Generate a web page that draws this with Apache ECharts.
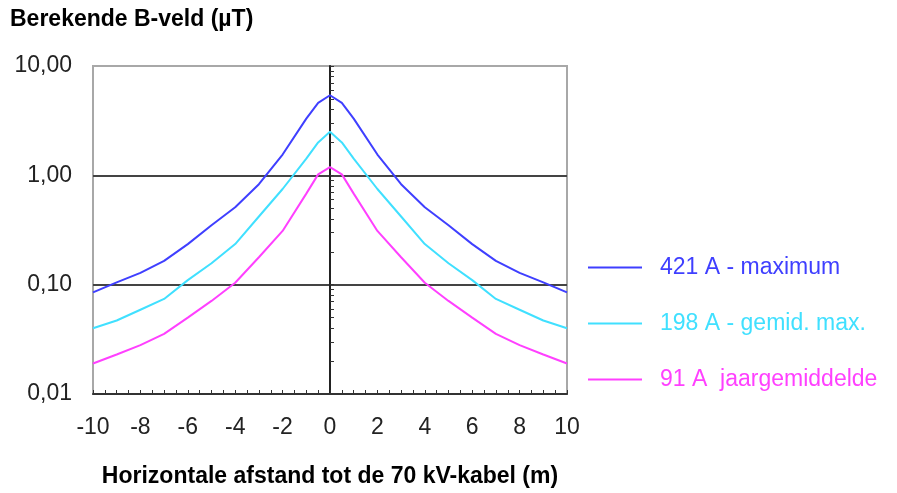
<!DOCTYPE html>
<html>
<head>
<meta charset="utf-8">
<script src="https://cdn.jsdelivr.net/npm/echarts@6/dist/echarts.min.js"></script>
<style>
  html, body { margin: 0; padding: 0; background: #fff; }
  #chart { width: 897px; height: 493px; }
</style>
</head>
<body>
<div id="chart"></div>
<script>
// afstand tot de kabel (m)
const afstand = [-10, -9, -8, -7, -6, -5, -4, -3, -2, -1, -0.5, 0, 0.5, 1, 2, 3, 4, 5, 6, 7, 8, 9, 10];

// B-veld in µT per stroom
const maximum = [0.085, 0.105, 0.128, 0.165, 0.235, 0.35, 0.51, 0.83, 1.55, 3.3, 4.6, 5.4, 4.6, 3.3, 1.55, 0.83, 0.51, 0.35, 0.235, 0.165, 0.128, 0.105, 0.085];
const gemidMax = [0.040, 0.047, 0.059, 0.074, 0.11, 0.157, 0.235, 0.42, 0.75, 1.42, 2.0, 2.5, 2.0, 1.42, 0.75, 0.42, 0.235, 0.157, 0.11, 0.074, 0.059, 0.047, 0.040];
const jaarGem = [0.019, 0.023, 0.028, 0.0355, 0.050, 0.071, 0.104, 0.178, 0.31, 0.68, 1.02, 1.19, 1.02, 0.68, 0.31, 0.178, 0.104, 0.071, 0.050, 0.0355, 0.028, 0.023, 0.019];

const seriesNames = ['421 A - maximum', '198 A - gemid. max.', '91 A  jaargemiddelde'];
const colors = ['#3f3fff', '#40e0ff', '#ff40ff'];

const xTicks = [];
for (let i = -20; i <= 20; i++) xTicks.push(i / 2);
const yTicks = [];
[0.01, 0.1, 1].forEach(d => { for (let k = 1; k <= 9; k++) yTicks.push(+(d * k).toFixed(4)); });
yTicks.push(10);

const font = 'Liberation Sans, Arial, sans-serif';

const pairs = vals => afstand.map((x, i) => [x, vals[i]]);

const myChart = echarts.init(document.getElementById('chart'));

const option = {
  animation: false,
  title: {
    text: 'Berekende B-veld (µT)',
    left: 5,
    top: 3,
    textStyle: { fontFamily: font, fontSize: 23, fontWeight: 'bold', color: '#000' }
  },
  legend: {
    orient: 'vertical',
    left: 583,
    top: 251,
    itemWidth: 54,
    itemHeight: 2,
    itemGap: 33,
    icon: 'rect',
    textStyle: { fontFamily: font, fontSize: 23, padding: [0, 0, 0, 13] },
    data: seriesNames.map((n, i) => ({ name: n, textStyle: { color: colors[i] } }))
  },
  grid: {
    left: 93,
    right: 330,
    top: 66,
    bottom: 99,
    show: true,
    borderColor: '#a8a8a8',
    borderWidth: 2
  },
  xAxis: {
    type: 'value',
    min: -10,
    max: 10,
    interval: 2,
    name: 'Horizontale afstand tot de 70 kV-kabel (m)',
    nameLocation: 'middle',
    nameGap: 71,
    nameTextStyle: { fontFamily: font, fontSize: 23, fontWeight: 'bold', color: '#000' },
    axisLine: { onZero: false, lineStyle: { color: '#333', width: 2 } },
    axisTick: { inside: true, length: 4, customValues: xTicks, lineStyle: { color: '#333' } },
    axisLabel: { fontFamily: font, fontSize: 23, color: '#222', margin: 22 },
    splitLine: { show: false }
  },
  yAxis: [
    {
      type: 'log',
      logBase: 10,
      min: 0.01,
      max: 10,
      position: 'left',
      axisLine: { show: false, onZero: false },
      axisTick: { show: false },
      axisLabel: {
        fontFamily: font, fontSize: 23, color: '#222', margin: 21,
        formatter: v => v.toFixed(2).replace('.', ',')
      },
      splitLine: { show: true, showMinLine: false, showMaxLine: false, lineStyle: { color: '#444', width: 2 } }
    },
    {
      type: 'log',
      logBase: 10,
      min: 0.01,
      max: 10,
      position: 'left',
      axisLine: { show: true, onZero: true, onZeroAxisIndex: 0, lineStyle: { color: '#222', width: 2 } },
      axisTick: { show: true, inside: true, length: 4, customValues: yTicks, lineStyle: { color: '#333' } },
      axisLabel: { show: false },
      splitLine: { show: false }
    }
  ],
  series: [
    { name: seriesNames[0], type: 'line', data: pairs(maximum) },
    { name: seriesNames[1], type: 'line', data: pairs(gemidMax) },
    { name: seriesNames[2], type: 'line', data: pairs(jaarGem) }
  ].map((s, i) => Object.assign(s, {
    yAxisIndex: 0,
    showSymbol: false,
    color: colors[i],
    lineStyle: { width: 2, color: colors[i] }
  }))
};

myChart.setOption(option);
</script>
</body>
</html>
